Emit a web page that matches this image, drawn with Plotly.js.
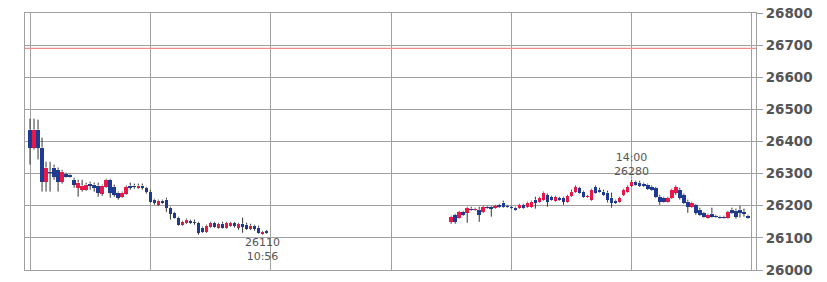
<!DOCTYPE html>
<html>
<head>
<meta charset="utf-8">
<script src="https://cdn.plot.ly/plotly-3.0.1.min.js"></script>
<style>html,body{margin:0;padding:0;background:#fff;}#chart{width:827px;height:282px;}</style>
</head>
<body>
<div id="chart"></div>
<script>
// minutes after 9:00 (2-minute candles)
const times = [
  0,2,4,6,8,10,12,14,16,18,20,22,24,26,28,30,32,34,36,38,40,42,44,46,48,50,52,54,56,58,
  60,62,64,66,68,70,72,74,76,78,80,82,84,86,88,90,92,94,96,98,100,102,104,106,108,110,112,114,116,118,
  210,212,214,216,218,220,222,224,226,228,230,232,234,236,238,240,242,244,246,248,250,252,254,256,258,
  260,262,264,266,268,270,272,274,276,278,280,282,284,286,288,290,292,294,296,298,300,302,304,306,308,
  310,312,314,316,318,320,322,324,326,328,330,332,334,336,338,340,342,344,346,348,350,352,354,356,358
];
const opens = [
  26437,26381,26437,26381,26275,26306,26319,26312,26275,26300,26297,26281,26256,26250,26250,26269,26266,26263,26238,26259,26281,26259,26241,26228,26238,26263,26263,26256,26263,26256,
  26244,26219,26203,26216,26219,26194,26178,26163,26141,26147,26153,26150,26147,26132,26119,26135,26147,26132,26144,26132,26138,26147,26132,26144,26141,26129,26138,26132,26113,26122,
  26150,26172,26163,26181,26178,26191,26188,26188,26181,26197,26197,26194,26203,26210,26200,26197,26194,26194,26203,26197,26197,26219,26213,26219,26234,
  26228,26216,26225,26225,26213,26231,26244,26256,26244,26228,26219,26259,26250,26244,26241,26225,26216,26213,26234,26244,26263,26275,26272,26269,26266,
  26259,26256,26228,26225,26213,26225,26241,26250,26234,26213,26197,26203,26188,26178,26163,26175,26169,26166,26166,26163,26188,26185,26188,26181,26169
];
const highs = [
  26471,26471,26468,26412,26337,26337,26328,26319,26312,26303,26300,26287,26281,26281,26272,26275,26272,26272,26266,26284,26284,26266,26244,26244,26263,26272,26269,26269,26269,26259,
  26250,26222,26219,26219,26225,26197,26181,26166,26153,26160,26157,26157,26150,26135,26141,26150,26150,26147,26150,26150,26150,26150,26147,26163,26147,26144,26141,26138,26122,26125,
  26169,26175,26184,26184,26197,26197,26194,26197,26200,26200,26200,26203,26206,26216,26203,26200,26197,26206,26206,26213,26216,26228,26228,26244,26238,
  26231,26231,26228,26228,26234,26250,26263,26259,26247,26234,26253,26263,26256,26250,26247,26241,26219,26228,26253,26263,26280,26278,26278,26272,26269,
  26263,26259,26234,26228,26228,26253,26263,26256,26238,26219,26213,26206,26194,26181,26175,26194,26172,26169,26169,26184,26194,26191,26200,26191,26172
];
const lows = [
  26328,26375,26344,26244,26244,26244,26281,26244,26269,26288,26288,26256,26228,26244,26247,26250,26244,26228,26231,26256,26225,26228,26219,26225,26234,26250,26253,26253,26250,26238,
  26210,26203,26200,26206,26181,26157,26160,26138,26138,26144,26144,26141,26110,26116,26116,26132,26132,26129,26129,26129,26135,26132,26125,26116,26125,26125,26122,26113,26110,26113,
  26144,26144,26160,26169,26147,26185,26185,26150,26178,26191,26166,26191,26194,26194,26194,26191,26185,26191,26191,26194,26194,26191,26210,26216,26197,
  26216,26213,26216,26203,26210,26228,26241,26238,26225,26225,26216,26238,26241,26231,26210,26194,26206,26210,26231,26241,26259,26263,26259,26259,26250,
  26247,26225,26203,26210,26210,26222,26234,26219,26206,26178,26194,26172,26169,26163,26160,26163,26163,26160,26160,26160,26175,26160,26163,26166,26160
];
const closes = [
  26381,26437,26381,26275,26319,26303,26291,26275,26306,26291,26291,26266,26272,26263,26266,26263,26256,26241,26263,26281,26241,26234,26225,26241,26259,26256,26259,26263,26256,26244,
  26213,26210,26216,26210,26194,26175,26163,26141,26150,26157,26147,26147,26116,26119,26138,26147,26135,26144,26132,26147,26147,26138,26144,26135,26129,26138,26129,26116,26119,26116,
  26166,26150,26181,26172,26194,26188,26191,26172,26197,26194,26191,26200,26197,26197,26197,26194,26188,26203,26194,26210,26213,26210,26225,26241,26213,
  26219,26228,26219,26213,26231,26244,26259,26241,26228,26231,26250,26241,26244,26234,26219,26210,26210,26225,26250,26259,26275,26266,26263,26263,26253,
  26250,26228,26213,26213,26225,26250,26259,26225,26210,26197,26210,26178,26172,26166,26172,26166,26166,26163,26163,26181,26178,26166,26178,26175,26163
];
const refLine = 26690;
const yTicks = [26000,26100,26200,26300,26400,26500,26600,26700,26800];
const markHigh = {t: 300, label: "14:00", value: 26280};
const markLow = {t: 116, label: "10:56", value: 26110};

const RED = '#e8194a', BLUE = '#1f3a93', WICK = '#333333', GRID = '#a0a0a0';
const MINH = 3;

// wick segments (outside the bodies)
const wx = [], wy = [];
times.forEach((t, i) => {
  const top = Math.max(opens[i], closes[i]), bot = Math.min(opens[i], closes[i]);
  if (highs[i] > top) { wx.push(t, t, null); wy.push(highs[i], top, null); }
  if (lows[i] < bot) { wx.push(t, t, null); wy.push(bot, lows[i], null); }
});

function bodies(up) {
  const x = [], base = [], h = [];
  times.forEach((t, i) => {
    const o = opens[i], c = closes[i];
    if ((c >= o) !== up) return;
    let b = Math.min(o, c), d = Math.abs(c - o);
    if (d < MINH) { b = (o + c) / 2 - MINH / 2; d = MINH; }
    x.push(t); base.push(b); h.push(d);
  });
  return {type: 'bar', x: x, y: h, base: base, width: 1.8,
    marker: {color: up ? RED : BLUE, line: {width: 0}}, hoverinfo: 'skip', showlegend: false};
}

const traces = [
  {type: 'scatter', mode: 'lines', x: wx, y: wy, line: {color: WICK, width: 1},
   hoverinfo: 'skip', showlegend: false, connectgaps: false},
  bodies(true), bodies(false)
];

const annFont = {family: 'DejaVu Sans', size: 11, color: '#555'};
const layout = {
  width: 827, height: 282,
  margin: {l: 25, r: 71, t: 13, b: 12, pad: 0},
  paper_bgcolor: '#fff', plot_bgcolor: '#fff',
  barmode: 'overlay', bargap: 0,
  showlegend: false,
  xaxis: {range: [-2.5, 362], tick0: 0, dtick: 60, showgrid: true, gridcolor: GRID, gridwidth: 1,
    showticklabels: false, ticks: '', zeroline: false, showline: true, mirror: true,
    linecolor: GRID, linewidth: 1, fixedrange: true},
  yaxis: {range: [26000, 26800], side: 'right', tickvals: yTicks, ticktext: yTicks.map(String),
    showgrid: true, gridcolor: GRID, gridwidth: 1, zeroline: false,
    showline: true, mirror: true, linecolor: GRID, linewidth: 1,
    ticks: 'outside', ticklen: 6, tickcolor: GRID, tickwidth: 1,
    tickfont: {family: 'DejaVu Sans', size: 13.5, color: '#555', weight: 'bold'}, fixedrange: true},
  shapes: [{type: 'line', xref: 'paper', x0: 0, x1: 1, yref: 'y', y0: refLine, y1: refLine,
    line: {color: '#f08c8c', width: 1.3}}],
  annotations: [
    {x: markHigh.t, y: markHigh.value, text: markHigh.label + '<br>' + markHigh.value,
     showarrow: false, yshift: 16, yanchor: 'middle', xanchor: 'center', font: annFont},
    {x: markLow.t, y: markLow.value, text: markLow.value + '<br>' + markLow.label,
     showarrow: false, yshift: -14.5, yanchor: 'middle', xanchor: 'center', font: annFont}
  ]
};

Plotly.newPlot('chart', traces, layout, {staticPlot: true, displayModeBar: false});
</script>
</body>
</html>
